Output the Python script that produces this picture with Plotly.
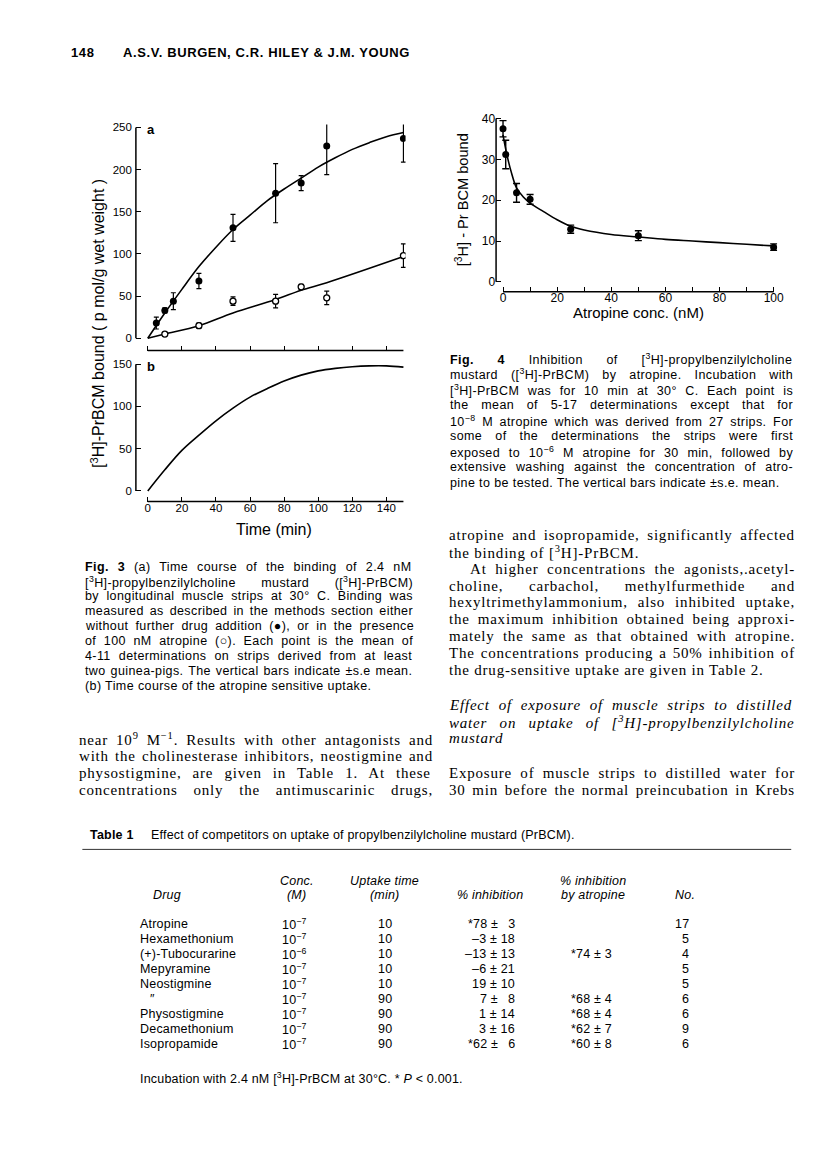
import re
import plotly.graph_objects as go

# ---------------- data ----------------
# Fig. 3a : binding time course
time_ctrl = [5, 10, 15, 30, 50, 75, 90, 105, 150]
bound_ctrl = [18, 33, 44, 68, 131, 172, 184, 228, 237]
err_ctrl = [7, 3, 10, 9, 16, 35, 9, 34, 28]

time_atr = [10, 30, 50, 75, 90, 105, 150]
bound_atr = [5, 15, 44, 44, 61, 48, 98]
err_atr = [2, 3, 5, 8, 3, 8, 14]

fit_time = [0, 10, 20, 30, 40, 50, 60, 70, 80, 90, 100, 110, 120, 130, 140, 150]
fit_ctrl = [0, 30, 58, 85, 108, 129, 146, 163, 177, 190, 203, 214, 224, 232, 239, 244]
fit_atr_time = [0, 10, 30, 50, 75, 90, 105, 150]
fit_atr = [0, 5, 15, 30, 46, 57, 66, 97]

# Fig. 3b : atropine-sensitive uptake
sens_time = [0, 10, 20, 30, 40, 50, 60, 70, 80, 90, 100, 110, 120, 130, 140, 150]
sens_bound = [0, 25, 48, 66, 83, 98, 111, 121, 130, 137, 142, 145, 147, 148, 148, 146.5]

# Fig. 4 : inhibition by atropine
atr_conc = [0, 1, 5, 10, 25, 50, 100]
atr_bound = [37.5, 31.2, 21.8, 20.2, 12.9, 11.3, 8.5]
atr_err = [2, 3.5, 2.3, 1.2, 1.0, 1.2, 0.8]
curve_conc = [0, 1, 2, 3, 5, 7.5, 10, 15, 20, 25, 30, 40, 50, 60, 70, 80, 90, 100]
curve_bound = [36, 32.5, 29.5, 27, 23, 20.8, 19.3, 17.2, 15.2, 13.6, 12.7, 11.6, 11.0, 10.4, 10.0, 9.6, 9.2, 8.8]

# Table 1
tab_drugs = ["Atropine", "Hexamethonium", "(+)-Tubocurarine", "Mepyramine", "Neostigmine",
             "\u2033", "Physostigmine", "Decamethonium", "Isopropamide"]
tab_conc_exp = ["-7", "-7", "-6", "-7", "-7", "-7", "-7", "-7", "-7"]
tab_time = ["10", "10", "10", "10", "10", "90", "90", "90", "90"]
tab_inhib = ["*78 \u00b1\u2002 3", "\u20133 \u00b1 18", "\u201313 \u00b1 13", "\u20136 \u00b1 21", "19 \u00b1 10",
             "7 \u00b1\u2002 8", "1 \u00b1 14", "3 \u00b1 16", "*62 \u00b1\u2002 6"]
tab_inhib_atr = ["", "", "*74 \u00b1 3", "", "", "*68 \u00b1 4", "*68 \u00b1 4", "*62 \u00b1 7", "*60 \u00b1 8"]
tab_n = ["17", "5", "4", "5", "5", "6", "6", "9", "6"]

fig3_xticks = [0, 20, 40, 60, 80, 100, 120, 140]
fig3a_yticks = [0, 50, 100, 150, 200, 250]
fig3b_yticks = [0, 50, 100, 150]
fig4_xticks = [0, 10, 20, 30, 40, 50, 60, 70, 80, 90, 100]
fig4_xlabels = ["0", "", "20", "", "40", "", "60", "", "80", "", "100"]
fig4_yticks = [0, 10, 20, 30, 40]

# ---------------- page geometry ----------------
W, H = 816, 1167
def px(x):
    return x / W
def py(y):
    return 1 - y / H

SANS = "Liberation Sans, Arial, sans-serif"
SERIF = "Liberation Serif, Times New Roman, serif"

# approximate glyph advance widths (em/1000) for justification
ARIAL = {' ': 278, '!': 278, '%': 889, '&': 667, '(': 333, ')': 333, '*': 389, '+': 584, ',': 278,
         '-': 333, '.': 278, '/': 278, ':': 278, ';': 278, '<': 584, '=': 584, '>': 584, '[': 278,
         ']': 278, 'A': 667, 'B': 667, 'C': 722, 'D': 722, 'E': 667, 'F': 611, 'G': 778, 'H': 722,
         'I': 278, 'J': 500, 'K': 667, 'L': 556, 'M': 833, 'N': 722, 'O': 778, 'P': 667, 'Q': 778,
         'R': 722, 'S': 667, 'T': 611, 'U': 722, 'V': 667, 'W': 944, 'X': 667, 'Y': 667, 'Z': 611,
         'a': 556, 'b': 556, 'c': 500, 'd': 556, 'e': 556, 'f': 278, 'g': 556, 'h': 556, 'i': 222,
         'j': 222, 'k': 500, 'l': 222, 'm': 833, 'n': 556, 'o': 556, 'p': 556, 'q': 556, 'r': 333,
         's': 500, 't': 278, 'u': 556, 'v': 500, 'w': 722, 'x': 500, 'y': 500, 'z': 500,
         '\u00b1': 584, '\u00b0': 400, '\u25cf': 600, '\u25cb': 600, '\u2212': 584, '\u2013': 556}
TIMES = {' ': 250, '!': 333, '%': 833, '&': 778, '(': 333, ')': 333, '*': 500, '+': 564, ',': 250,
         '-': 333, '.': 250, '/': 278, ':': 278, ';': 278, '[': 333, ']': 333,
         'A': 722, 'B': 667, 'C': 667, 'D': 722, 'E': 611, 'F': 556, 'G': 722, 'H': 722, 'I': 333,
         'J': 389, 'K': 722, 'L': 611, 'M': 889, 'N': 722, 'O': 722, 'P': 556, 'Q': 722, 'R': 667,
         'S': 556, 'T': 611, 'U': 722, 'V': 722, 'W': 944, 'X': 722, 'Y': 722, 'Z': 611,
         'a': 444, 'b': 500, 'c': 444, 'd': 500, 'e': 444, 'f': 333, 'g': 500, 'h': 500, 'i': 278,
         'j': 278, 'k': 500, 'l': 278, 'm': 778, 'n': 500, 'o': 500, 'p': 500, 'q': 500, 'r': 333,
         's': 389, 't': 278, 'u': 500, 'v': 500, 'w': 722, 'x': 500, 'y': 500, 'z': 444,
         '\u2212': 564, '\u2013': 500}

def measure(markup, table, size, ls):
    total = 0.0
    nchar = 0
    sup = False
    bold = False
    for part in re.split(r"(<[^<>]*>)", markup):
        if part.startswith("<"):
            inner = part.strip("<>/")
            tag = inner.split()[0].lower() if inner else ""
            closing = part.startswith("</")
            if tag == "sup":
                sup = not closing
            elif tag == "b":
                bold = not closing
            continue
        part = part.replace("&amp;", "&").replace("&lt;", "<").replace("&gt;", ">")
        for ch in part:
            if ch.isdigit():
                w = 556 if table is ARIAL else 500
            else:
                w = table.get(ch, 500)
            f = size * (0.7 if sup else 1.0) * (1.07 if bold else 1.0)
            total += w / 1000.0 * f
            nchar += 1
    return total + ls * nchar

fig = go.Figure()

# Fig3 mapping
X0_3, XS_3, L3, R3 = 141.0, 1.719, 129.0, 401.0
x3_range = [(L3 - X0_3) / XS_3, (R3 - X0_3) / XS_3]
Y0a, YSa, TOPa, BOTa = 326.7, 0.847, 112.0, 339.0
ya_range = [(Y0a - BOTa) / YSa, (Y0a - TOPa) / YSa]
Y0b, YSb, TOPb, BOTb = 480.0, 0.849, 346.0, 490.7
yb_range = [(Y0b - BOTb) / YSb, (Y0b - TOPb) / YSb]
# Fig4 mapping
X0_4, XS_4, L4, R4 = 499.3, 2.73, 492.3, 776.0
x4_range = [(L4 - X0_4) / XS_4, (R4 - X0_4) / XS_4]
Y0_4, YS_4, TOP4, BOT4 = 270.0, 4.1, 104.0, 280.0
y4_range = [(Y0_4 - BOT4) / YS_4, (Y0_4 - TOP4) / YS_4]

# ---------------- traces ----------------
line_style = dict(color="black", width=1.6)
fig.add_trace(go.Scatter(x=fit_time, y=fit_ctrl, mode="lines", line_shape="spline",
                         line=line_style, xaxis="x", yaxis="y"))
fig.add_trace(go.Scatter(x=fit_atr_time, y=fit_atr, mode="lines", line_shape="spline",
                         line=line_style, xaxis="x", yaxis="y"))
fig.add_trace(go.Scatter(x=time_ctrl, y=bound_ctrl, mode="markers",
                         marker=dict(size=7, color="black"),
                         error_y=dict(type="data", array=err_ctrl, color="black", thickness=1.2, width=2.5),
                         xaxis="x", yaxis="y"))
fig.add_trace(go.Scatter(x=time_atr, y=bound_atr, mode="markers",
                         marker=dict(size=6, color="white", line=dict(color="black", width=1.3)),
                         error_y=dict(type="data", array=err_atr, color="black", thickness=1.2, width=2.5),
                         xaxis="x", yaxis="y"))
fig.add_trace(go.Scatter(x=sens_time, y=sens_bound, mode="lines", line_shape="spline",
                         line=line_style, xaxis="x2", yaxis="y2"))
fig.add_trace(go.Scatter(x=curve_conc, y=curve_bound, mode="lines", line_shape="spline",
                         line=line_style, xaxis="x3", yaxis="y3"))
fig.add_trace(go.Scatter(x=atr_conc, y=atr_bound, mode="markers",
                         marker=dict(size=7, color="black"),
                         error_y=dict(type="data", array=atr_err, color="black", thickness=1.4, width=3.5),
                         xaxis="x3", yaxis="y3"))

# ---------------- axes ----------------
def axis_style(size):
    return dict(showgrid=False, zeroline=False, showline=False, ticks="inside", ticklen=5,
                tickwidth=1.3, tickcolor="black", fixedrange=True,
                tickfont=dict(family=SANS, size=size, color="black"))

fig.update_layout(
    xaxis=dict(domain=[px(L3), px(R3)], range=x3_range, anchor="y", tickvals=fig3_xticks,
               showticklabels=False, **axis_style(11.5)),
    yaxis=dict(domain=[py(BOTa), py(TOPa)], range=ya_range, anchor="x", tickvals=fig3a_yticks,
               ticklabelstandoff=3, **axis_style(11.5)),
    xaxis2=dict(domain=[px(L3), px(R3)], range=x3_range, anchor="y2", tickvals=fig3_xticks,
                ticklabelstandoff=-2, **axis_style(11.5)),
    yaxis2=dict(domain=[py(BOTb), py(TOPb)], range=yb_range, anchor="x2", tickvals=fig3b_yticks,
                ticklabelstandoff=3, **axis_style(11.5)),
    xaxis3=dict(domain=[px(L4), px(R4)], range=x4_range, anchor="y3", tickvals=fig4_xticks,
                ticktext=fig4_xlabels, ticklabelstandoff=-3, **axis_style(12)),
    yaxis3=dict(domain=[py(BOT4), py(TOP4)], range=y4_range, anchor="x3", tickvals=fig4_yticks,
                **axis_style(12)),
)

ax_line = dict(color="black", width=1.5)
shapes = [
    dict(type="line", xref="x", yref="y domain", x0=0, x1=150, y0=0, y1=0, line=ax_line),
    dict(type="line", xref="x domain", yref="y", x0=0, x1=0, y0=0, y1=250, line=ax_line),
    dict(type="line", xref="x2", yref="y2 domain", x0=0, x1=150, y0=0, y1=0, line=ax_line),
    dict(type="line", xref="x2 domain", yref="y2", x0=0, x1=0, y0=0, y1=150, line=ax_line),
    dict(type="line", xref="x3", yref="y3 domain", x0=0, x1=100, y0=0, y1=0, line=ax_line),
    dict(type="line", xref="x3 domain", yref="y3", x0=0, x1=0, y0=0, y1=40, line=ax_line),
    dict(type="line", xref="paper", yref="paper", x0=px(75), x1=px(790), y0=py(840), y1=py(840),
         line=dict(color="#333", width=1)),
]

# ---------------- text ----------------
ann = []
def txt(x, y, s, size=12, family=SANS, anchor="left", angle=0):
    ann.append(dict(x=px(x), y=py(y), xref="paper", yref="paper", text=s, showarrow=False,
                    xanchor=anchor, yanchor="middle", textangle=angle, borderpad=0,
                    font=dict(family=family, size=size, color="black")))

def line(left, right, y, markup, size, family, table, ls, justify=True, indent=0):
    style = "letter-spacing:%.2fpx;" % ls
    if justify:
        plain = re.sub(r"<[^<>]*>", "", markup)
        n = plain.count(" ")
        if n:
            w = measure(markup, table, size, ls)
            ws = (right - left - indent - w) / n
            style += "word-spacing:%.2fpx;" % ws
    txt(left + indent, y, "<span style='%s'>%s</span>" % (style, markup), size, family)

# header
line(63, 0, 40, "<b>148</b>", 13, SANS, ARIAL, 0.6, justify=False)
line(115, 0, 40, "<b>A.S.V. BURGEN, C.R. HILEY &amp; J.M. YOUNG</b>", 13, SANS, ARIAL, 0.6, justify=False)

# figure labels and axis titles
txt(139, 117, "<b>a</b>", 13)
txt(139, 355, "<b>b</b>", 13)
txt(90, 312, "[<sup>3</sup>H]-PrBCM bound ( p mol/g wet weight )", 16, angle=-90, anchor="center")
txt(268, 519, "Time (min)", 16, anchor="center")
txt(458, 188, "[<sup>3</sup>H] - Pr BCM bound", 14.6, angle=-90, anchor="center")
txt(636, 301, "Atropine conc. (nM)", 15, anchor="center")

CAP = 12.5
CAP_LS = 0.4
# Fig 3 caption
cap3 = [
    "<b>Fig. 3</b> (a) Time course of the binding of 2.4 nM",
    "[<sup>3</sup>H]-propylbenzilylcholine mustard ([<sup>3</sup>H]-PrBCM)",
    "by longitudinal muscle strips at 30\u00b0 C. Binding was",
    "measured as described in the methods section either",
    "without further drug addition (\u25cf), or in the presence",
    "of 100 nM atropine (\u25cb). Each point is the mean of",
    "4-11 determinations on strips derived from at least",
    "two guinea-pigs. The vertical bars indicate \u00b1s.e mean.",
    "(b) Time course of the atropine sensitive uptake.",
]
for i, s in enumerate(cap3):
    line(77, 405, 556 + 15 * i, s, CAP, SANS, ARIAL, CAP_LS, justify=(i < len(cap3) - 1))

# Fig 4 caption
cap4 = [
    "<b>Fig. 4</b> Inhibition of [<sup>3</sup>H]-propylbenzilylcholine",
    "mustard ([<sup>3</sup>H]-PrBCM) by atropine. Incubation with",
    "[<sup>3</sup>H]-PrBCM was for 10 min at 30\u00b0 C. Each point is",
    "the mean of 5-17 determinations except that for",
    "10<sup>\u22128</sup> M atropine which was derived from 27 strips. For",
    "some of the determinations the strips were first",
    "exposed to 10<sup>\u22126</sup> M atropine for 30 min, followed by",
    "extensive washing against the concentration of atro-",
    "pine to be tested. The vertical bars indicate \u00b1s.e. mean.",
]
for i, s in enumerate(cap4):
    line(445, 788, 347 + 15.6 * i, s, CAP, SANS, ARIAL, CAP_LS, justify=(i < len(cap4) - 1))

BODY = 15
BODY_LS = 0.8
# right column body: (y, text, justified, indent)
body_r = [
    (524, "atropine and isopropamide, significantly affected", True, 0),
    (541, "the binding of [<sup>3</sup>H]-PrBCM.", False, 0),
    (558, "At higher concentrations the agonists,.acetyl-", True, 21),
    (575, "choline, carbachol, methylfurmethide and", True, 0),
    (592, "hexyltrimethylammonium, also inhibited uptake,", True, 0),
    (609, "the maximum inhibition obtained being approxi-", True, 0),
    (626, "mately the same as that obtained with atropine.", True, 0),
    (643, "The concentrations producing a 50% inhibition of", True, 0),
    (660, "the drug-sensitive uptake are given in Table 2.", False, 0),
    (695, "<i>Effect of exposure of muscle strips to distilled</i>", True, 0),
    (712, "<i>water on uptake of [<sup>3</sup>H]-propylbenzilylcholine</i>", True, 0),
    (728, "<i>mustard</i>", False, 0),
    (763, "Exposure of muscle strips to distilled water for", True, 0),
    (780, "30 min before the normal preincubation in Krebs", True, 0),
]
for y, s, j, ind in body_r:
    line(444, 790, y, s, BODY, SERIF, TIMES, BODY_LS, justify=j, indent=ind)

# left column body
body_l = [
    (729, "near 10<sup>9</sup> M<sup>\u22121</sup>. Results with other antagonists and"),
    (746, "with the cholinesterase inhibitors, neostigmine and"),
    (763, "physostigmine, are given in Table 1. At these"),
    (780, "concentrations only the antimuscarinic drugs,"),
]
for y, s in body_l:
    line(71, 425, y, s, BODY, SERIF, TIMES, BODY_LS, justify=True)

# Table 1
TS = 12.5
TLS = 0.2
line(82, 0, 826, "<b>Table 1</b>", TS, SANS, ARIAL, TLS, justify=False)
line(143, 0, 826, "Effect of competitors on uptake of propylbenzilylcholine mustard (PrBCM).",
     TS, SANS, ARIAL, TLS, justify=False)

def cell(x, y, s, anchor):
    txt(x, y, "<span style='letter-spacing:%.2fpx'>%s</span>" % (TLS, s), TS, SANS, anchor=anchor)

cell(291, 872, "<i>Conc.</i>", "center")
cell(291, 886, "<i>(M)</i>", "center")
cell(380, 872, "<i>Uptake time</i>", "center")
cell(380, 886, "<i>(min)</i>", "center")
cell(486, 886, "<i>% inhibition</i>", "center")
cell(590, 872, "<i>% inhibition</i>", "center")
cell(590, 886, "<i>by atropine</i>", "center")
cell(683, 886, "<i>No.</i>", "center")
cell(145, 886, "<i>Drug</i>", "left")
for i in range(len(tab_drugs)):
    y = 915 + 15.1 * i
    cell(132 if i != 5 else 142, y, tab_drugs[i], "left")
    cell(289, y, "10<sup>" + tab_conc_exp[i].replace("-", "\u2212") + "</sup>", "center")
    cell(380, y, tab_time[i], "center")
    cell(512, y, tab_inhib[i], "right")
    if tab_inhib_atr[i]:
        cell(589, y, tab_inhib_atr[i], "center")
    cell(688, y, tab_n[i], "right")
cell(132, 1070, "Incubation with 2.4 nM [<sup>3</sup>H]-PrBCM at 30\u00b0C. * <i>P</i> &lt; 0.001.", "left")

fig.update_layout(
    width=W, height=H, margin=dict(l=0, r=0, t=0, b=0),
    paper_bgcolor="white", plot_bgcolor="white", showlegend=False,
    shapes=shapes, annotations=ann,
)

fig.write_html("out.html")
